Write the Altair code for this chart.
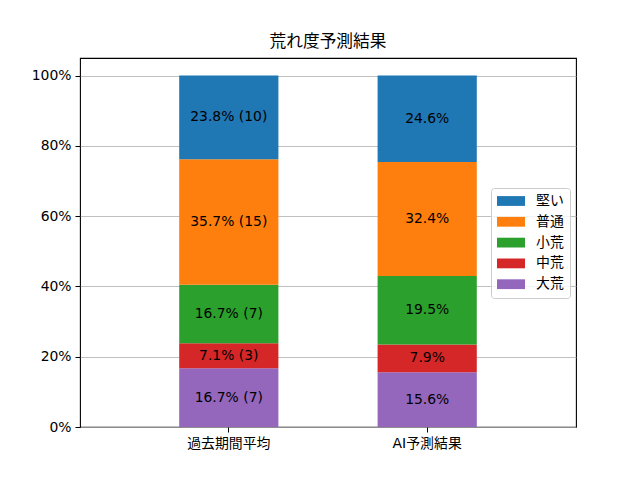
import altair as alt
import pandas as pd

categories = ["過去期間平均", "AI予測結果"]
series = ["大荒", "中荒", "小荒", "普通", "堅い"]  # bottom -> top
past_values = [16.7, 7.1, 16.7, 35.7, 23.8]
past_counts = [7, 3, 7, 15, 10]
ai_values = [15.6, 7.9, 19.5, 32.4, 24.6]

legend_order = ["堅い", "普通", "小荒", "中荒", "大荒"]
legend_colors = ["#1f77b4", "#ff7f0e", "#2ca02c", "#d62728", "#9467bd"]
y_ticks = [0, 20, 40, 60, 80, 100]

rows = []
for i, s in enumerate(series):
    rows.append({"cat": categories[0], "series": s, "rank": i, "value": past_values[i],
                 "label": f"{past_values[i]}% ({past_counts[i]})"})
    rows.append({"cat": categories[1], "series": s, "rank": i, "value": ai_values[i],
                 "label": f"{ai_values[i]}%"})
df = pd.DataFrame(rows)

FONT = "DejaVu Sans, Noto Sans CJK JP"

base = alt.Chart(df).transform_stack(
    stack="value", as_=["y0", "y1"], groupby=["cat"],
    sort=[alt.SortField("rank", order="ascending")]
).transform_calculate(mid="(datum.y0 + datum.y1) / 2")

x_enc = alt.X("cat:N", sort=categories,
              scale=alt.Scale(paddingInner=0.5, paddingOuter=0.5),
              axis=alt.Axis(title=None, labelAngle=0, grid=False, domain=False,
                            tickColor="black", tickSize=5, tickWidth=1,
                            labelColor="black", labelFontSize=13.9, labelFont=FONT,
                            labelPadding=4))
y_scale = alt.Scale(domain=[0, 105], nice=False)

bars = base.mark_bar(strokeWidth=0).encode(
    x=x_enc,
    y=alt.Y("y0:Q", scale=y_scale,
            axis=alt.Axis(title=None, values=y_ticks, labelExpr="datum.value + '%'",
                          grid=True, gridColor="#b0b0b0", gridWidth=0.8, domain=False,
                          tickColor="black", tickSize=5, tickWidth=1,
                          labelColor="black", labelFontSize=13.9, labelFont=FONT,
                          labelPadding=4)),
    y2="y1:Q",
    color=alt.Color("series:N",
                    scale=alt.Scale(domain=legend_order, range=legend_colors),
                    legend=alt.Legend(
                        title=None, orient="none", legendX=411, legendY=130,
                        symbolType="M-1,-0.7L3,-0.7L3,0.7L-1,0.7Z", symbolSize=196,
                        symbolStrokeWidth=0, labelOffset=25, rowPadding=6.8,
                        padding=6, labelFontSize=13.9, labelFont=FONT,
                        labelColor="black", strokeColor="#cccccc",
                        fillColor="rgba(255,255,255,0.8)", cornerRadius=3)),
)

texts = base.mark_text(align="center", baseline="middle", fontSize=13.9,
                       font=FONT, color="black").encode(
    x=alt.X("cat:N", sort=categories),
    y=alt.Y("mid:Q", scale=y_scale),
    text="label:N",
)

chart = alt.layer(bars, texts).properties(
    width=496, height=369,
    background="white",
    title=alt.TitleParams("荒れ度予測結果", fontSize=16.7, fontWeight="normal",
                          font=FONT, color="black", offset=7),
    autosize=alt.AutoSizeParams(type="none"),
    padding={"left": 72, "top": 50, "right": 56, "bottom": 45},
).configure_view(stroke="black", strokeWidth=1.1)

chart.save("out.html", embed_options={"renderer": "svg", "actions": False})
